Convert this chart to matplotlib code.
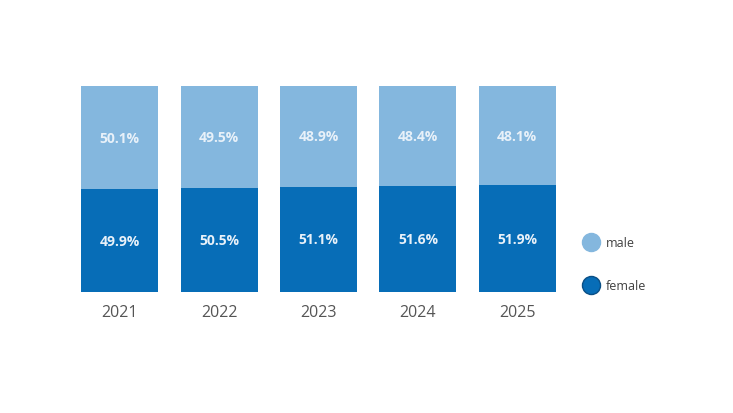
import matplotlib.pyplot as plt
from matplotlib.lines import Line2D

years = ["2021", "2022", "2023", "2024", "2025"]
female = [49.9, 50.5, 51.1, 51.6, 51.9]
male = [50.1, 49.5, 48.9, 48.4, 48.1]

light = "#84B7DE"
dark = "#076DB7"

plt.rcParams['font.family'] = ['Open Sans', 'DejaVu Sans']

fig = plt.figure(figsize=(7.33, 4.14), dpi=100)
ax = fig.add_axes([70 / 733, 121 / 414, 497 / 733, 206 / 414])

x = range(len(years))
ax.bar(x, female, width=0.775, color=dark)
ax.bar(x, male, width=0.775, bottom=female, color=light)

for i in x:
    ax.text(i, female[i] / 2, f"{female[i]:.1f}%", ha="center", va="center",
            color="#E8F1F9", fontsize=10, fontweight="bold")
    ax.text(i, female[i] + male[i] / 2, f"{male[i]:.1f}%", ha="center", va="center",
            color="#E8F1F9", fontsize=10, fontweight="bold")

ax.set_xlim(-0.5, 4.5)
ax.set_ylim(0, 100)
ax.set_xticks(list(x))
ax.set_xticklabels(years, fontsize=11.5, color="#555555")
ax.tick_params(axis="x", length=0, pad=9)
ax.set_yticks([])
for s in ax.spines.values():
    s.set_visible(False)

# legend on the right
handles = [Line2D([], [], marker="o", ls="", markersize=13, color=light, label="male"),
           Line2D([], [], marker="o", ls="", markersize=13, color=dark,
                  markeredgecolor="#0A4F86", label="female")]
fig.legend(handles=handles, loc="center left", bbox_to_anchor=(570 / 733, 1 - 265 / 414),
           frameon=False, fontsize=9, labelcolor="#404040", labelspacing=2.4,
           handletextpad=0.5, handlelength=1.5)

fig.savefig("out.png", dpi=100)
